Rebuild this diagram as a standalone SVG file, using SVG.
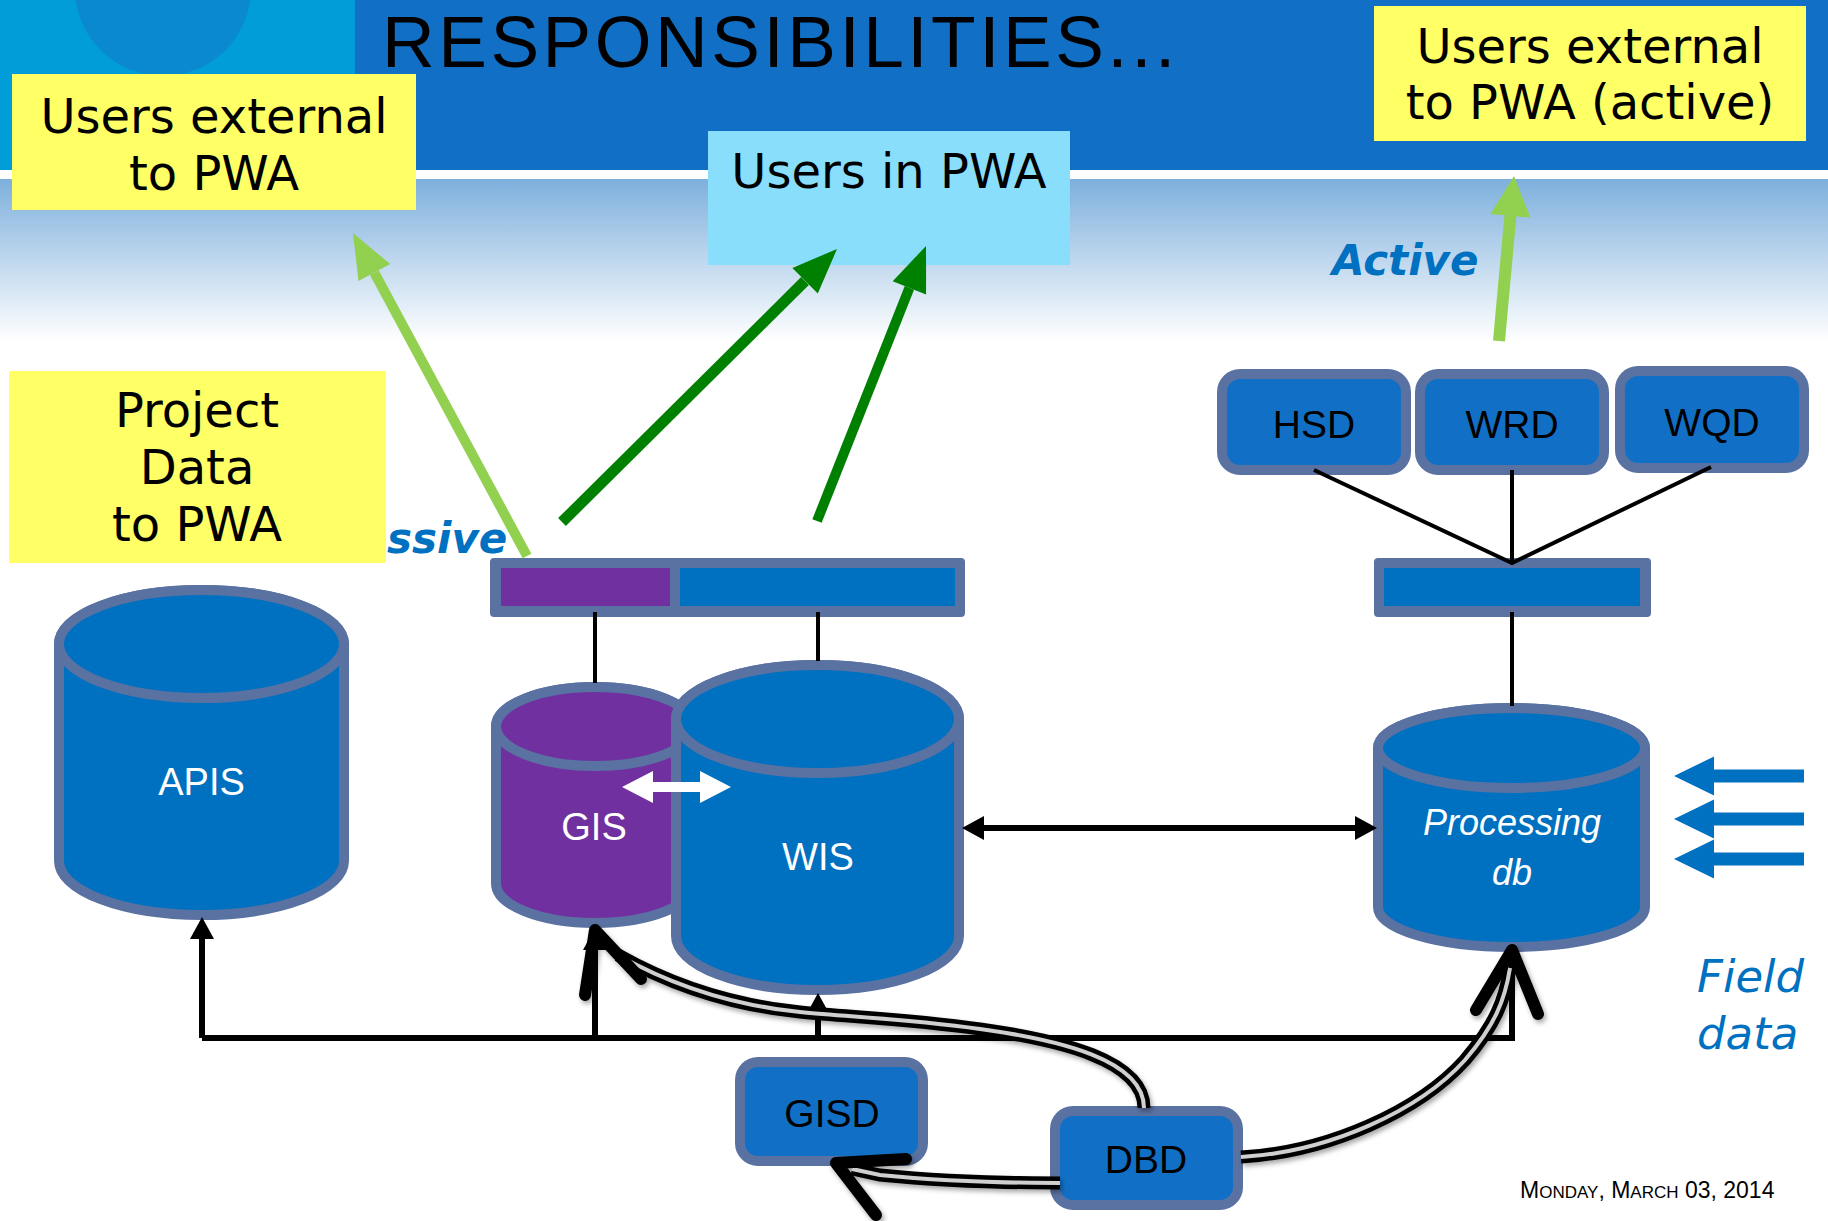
<svg xmlns="http://www.w3.org/2000/svg" width="1828" height="1221" viewBox="0 0 1828 1221">
<defs>
<linearGradient id="bg" x1="0" y1="0" x2="0" y2="1">
<stop offset="0" stop-color="#7DB0DC"/>
<stop offset="0.45" stop-color="#B8D3EC"/>
<stop offset="1" stop-color="#FFFFFF"/>
</linearGradient>
<filter id="sh" x="-10%" y="-10%" width="130%" height="130%">
<feDropShadow dx="2" dy="3" stdDeviation="2.5" flood-color="#000" flood-opacity="0.35"/>
</filter>
<marker id="ah" viewBox="0 0 22 24" refX="14" refY="12" markerWidth="22" markerHeight="24" markerUnits="userSpaceOnUse" orient="auto-start-reverse">
<path d="M0,0 L22,12 L0,24 Z" fill="#000"/>
</marker>
</defs>
<style>
.ybox{fill:#FFFF66}
.btxt{font-family:"DejaVu Sans",sans-serif;font-size:48px;fill:#000;text-anchor:middle}
.lbl{font-family:"Liberation Sans",Arial,sans-serif;font-size:39px;fill:#000;text-anchor:middle}
.clbl{font-family:"Liberation Sans",Arial,sans-serif;font-size:38px;fill:#fff;text-anchor:middle}
.rbox{fill:#1170C6;stroke:#5A72A2;stroke-width:10}
.cyl{stroke:#5A72A2;stroke-width:10}
.blue{fill:#0070C0}
.purple{fill:#7030A0}
.blue-note{font-family:"DejaVu Sans",sans-serif;font-weight:bold;font-style:italic;font-size:42px;fill:#0070C0}
.thin{stroke:#000;stroke-width:4;fill:none}
.bus{stroke:#000;stroke-width:6;fill:none}
.dbl-o{stroke:#000;stroke-width:13;fill:none}
.dbl-i{stroke:#CFCFCF;stroke-width:4;fill:none}
.vhead{stroke:#000;stroke-width:12;fill:none;stroke-linecap:round;stroke-linejoin:round}
</style>
<rect x="0" y="0" width="1828" height="1221" fill="#fff"/>
<g id="header">
<rect x="0" y="0" width="1828" height="170" fill="#1170C6"/>
<rect x="0" y="0" width="355" height="170" fill="#009DD9"/>
<circle cx="163" cy="-12" r="88" fill="#0A88D0"/>
<rect x="0" y="179" width="1828" height="162" fill="url(#bg)"/>
<text x="382" y="67" font-family="Liberation Sans, Arial, sans-serif" font-size="73" letter-spacing="3.5" fill="#000">RESPONSIBILITIES...</text>
</g>
<g id="users-external">
<rect class="ybox" x="12" y="74" width="404" height="136"/>
<text class="btxt" x="214" y="133">Users external</text>
<text class="btxt" x="214" y="190">to PWA</text>
</g>
<g id="users-in-pwa">
<rect x="708" y="131" width="362" height="134" fill="#89DEFB"/>
<text class="btxt" x="889" y="188">Users in PWA</text>
</g>
<g id="users-external-active">
<rect class="ybox" x="1374" y="6" width="432" height="135"/>
<text class="btxt" x="1590" y="63">Users external</text>
<text class="btxt" x="1590" y="119">to PWA (active)</text>
</g>
<g id="project-data">
<rect class="ybox" x="9" y="371" width="377" height="192"/>
<text class="btxt" x="197" y="427">Project</text>
<text class="btxt" x="197" y="484">Data</text>
<text class="btxt" x="197" y="541">to PWA</text>
</g>
<g id="label-passive"><text class="blue-note" x="387" y="553">ssive</text></g>
<g id="label-active"><text class="blue-note" x="1332" y="275">Active</text></g>
<g id="label-field-data">
<text x="1697" y="992" font-family="DejaVu Sans, sans-serif" font-style="italic" font-size="45" fill="#0070C0">Field</text>
<text x="1697" y="1049" font-family="DejaVu Sans, sans-serif" font-style="italic" font-size="45" fill="#0070C0">data</text>
</g>
<g id="date">
<text x="1520" y="1198" font-family="Liberation Sans, Arial, sans-serif" font-size="23" fill="#000">M<tspan font-size="17">ONDAY</tspan>, M<tspan font-size="17">ARCH</tspan> 03, 2014</text>
</g>
<g id="passive-bar">
<rect x="490" y="558" width="475" height="59" rx="4" fill="#5A72A2"/>
<rect x="501" y="568" width="169" height="38" class="purple"/>
<rect x="680" y="568" width="275" height="38" class="blue"/>
</g>
<g id="active-bar">
<rect x="1374" y="558" width="277" height="59" rx="4" fill="#5A72A2"/>
<rect x="1384" y="568" width="256" height="38" class="blue"/>
</g>
<g id="hsd"><rect class="rbox" x="1222" y="374" width="184" height="96" rx="18"/><text class="lbl" x="1314" y="438">HSD</text></g>
<g id="wrd"><rect class="rbox" x="1420" y="374" width="184" height="96" rx="18"/><text class="lbl" x="1512" y="438">WRD</text></g>
<g id="wqd"><rect class="rbox" x="1620" y="371" width="184" height="97" rx="18"/><text class="lbl" x="1712" y="436">WQD</text></g>
<g id="apis">
<path class="cyl blue" d="M59,644 L59,861 A142.5,54 0 0 0 344,861 L344,644 A142.5,54 0 0 0 59,644 Z"/>
<ellipse class="cyl blue" cx="201.5" cy="644" rx="142.5" ry="54"/>
<text class="clbl" x="201.5" y="795">APIS</text>
</g>
<g id="gis">
<path class="cyl purple" d="M496,726.5 L496,883.5 A99,39.5 0 0 0 694,883.5 L694,726.5 A99,39.5 0 0 0 496,726.5 Z"/>
<ellipse class="cyl purple" cx="595" cy="726.5" rx="99" ry="39.5"/>
<text class="clbl" x="594" y="840">GIS</text>
</g>
<g id="wis">
<path class="cyl blue" d="M676,719 L676,936 A141.5,54 0 0 0 959,936 L959,719 A141.5,54 0 0 0 676,719 Z"/>
<ellipse class="cyl blue" cx="817.5" cy="719" rx="141.5" ry="54"/>
<text class="clbl" x="818" y="870">WIS</text>
</g>
<g id="processing-db">
<path class="cyl blue" d="M1378,748 L1378,907 A133.5,40 0 0 0 1645,907 L1645,748 A133.5,40 0 0 0 1378,748 Z"/>
<ellipse class="cyl blue" cx="1511.5" cy="748" rx="133.5" ry="40"/>
<text x="1512" y="835" font-family="Liberation Sans, Arial, sans-serif" font-style="italic" font-size="36" fill="#fff" text-anchor="middle">Processing</text>
<text x="1512" y="885" font-family="Liberation Sans, Arial, sans-serif" font-style="italic" font-size="36" fill="#fff" text-anchor="middle">db</text>
</g>
<g id="gisd"><rect class="rbox" x="740" y="1062" width="183" height="99" rx="18"/><text class="lbl" x="832" y="1127">GISD</text></g>
<g id="dbd"><rect class="rbox" x="1055" y="1111" width="183" height="94" rx="18"/><text class="lbl" x="1146" y="1173">DBD</text></g>
<g id="connectors">
<line x1="527" y1="556" x2="374.3" y2="272.6" stroke="#92D050" stroke-width="10"/>
<polygon points="353,233 390.2,264.1 358.5,281.1" fill="#92D050"/>
<line x1="562" y1="522" x2="805" y2="281" stroke="#008000" stroke-width="11"/>
<polygon points="837,249 817.8,293.5 792.4,267.9" fill="#008000"/>
<line x1="817" y1="521" x2="909.4" y2="287.8" stroke="#008000" stroke-width="10"/>
<polygon points="926,246 926.1,294.4 892.7,281.2" fill="#008000"/>
<line x1="1499" y1="341" x2="1510.4" y2="215.8" stroke="#92D050" stroke-width="12"/>
<polygon points="1514,176 1530.3,217.6 1490.5,214" fill="#92D050"/>
<line class="thin" x1="595" y1="612" x2="595" y2="683"/>
<line class="thin" x1="818" y1="612" x2="818" y2="661"/>
<line class="thin" x1="1512" y1="612" x2="1512" y2="706"/>
<polyline class="thin" stroke-width="5" points="1314,470 1512,563 1711,467"/>
<line class="thin" stroke-width="5" x1="1512" y1="470" x2="1512" y2="563"/>
<polygon points="622,787 653,771 653,782 700,782 700,771 731,787 700,803 700,792 653,792 653,803" fill="#fff"/>
<polygon points="1674,776 1714,756.5 1714,769.5 1804,769.5 1804,782.5 1714,782.5 1714,795.5" fill="#0070C0"/>
<polygon points="1674,819 1714,799.5 1714,812.5 1804,812.5 1804,825.5 1714,825.5 1714,838.5" fill="#0070C0"/>
<polygon points="1674,859 1714,839.5 1714,852.5 1804,852.5 1804,865.5 1714,865.5 1714,878.5" fill="#0070C0"/>
<path class="bus" stroke-linejoin="miter" d="M202,1038 H1512 V960"/>
<line class="bus" stroke-width="5" x1="202" y1="1038" x2="202" y2="925" marker-end="url(#ah)"/>
<line class="bus" stroke-width="5" x1="595" y1="1038" x2="595" y2="936" marker-end="url(#ah)"/>
<line class="bus" stroke-width="5" x1="818" y1="1038" x2="818" y2="1001" marker-end="url(#ah)"/>
<line class="bus" stroke-width="7" x1="970" y1="828" x2="1369" y2="828" marker-start="url(#ah)" marker-end="url(#ah)"/>
<g filter="url(#sh)">
<path class="dbl-o" d="M1144,1108 C1144,1060 1060,1040 980,1029 C910,1019 850,1017 800,1012 C740,1006 680,990 618,955"/>
<path class="dbl-i" d="M1144,1108 C1144,1060 1060,1040 980,1029 C910,1019 850,1017 800,1012 C740,1006 680,990 618,955"/>
<path class="dbl-o" d="M1241,1157 C1330,1152 1420,1110 1465,1060 C1495,1025 1505,1000 1510,968"/>
<path class="dbl-i" d="M1241,1157 C1330,1152 1420,1110 1465,1060 C1495,1025 1505,1000 1510,968"/>
<path class="dbl-o" d="M1060,1183 C1000,1183 930,1180 880,1175 L852,1169"/>
<path class="dbl-i" d="M1060,1183 C1000,1183 930,1180 880,1175 L852,1169"/>
<polyline class="vhead" points="585,995 595,930 641,979"/>
<polyline class="vhead" points="1476,1010 1512,950 1538,1014"/>
<polyline class="vhead" points="906,1159 836,1163 876,1215"/>
</g>
</g>
</svg>
